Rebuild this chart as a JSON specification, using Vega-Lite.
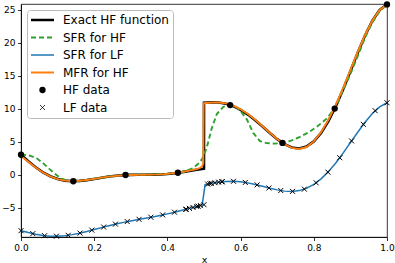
{
  "$schema": "https://vega.github.io/schema/vega-lite/v6.json",
  "width": 366,
  "height": 233,
  "autosize": {"type": "none"},
  "padding": {"left": 21, "top": 4, "right": 8, "bottom": 26},
  "config": {
    "font": "DejaVu Sans",
    "view": {"stroke": "black", "strokeWidth": 0.8},
    "axis": {
      "grid": false,
      "labelFlush": false,
      "labelOverlap": false,
      "domainColor": "black",
      "domainWidth": 0.8,
      "tickColor": "black",
      "tickWidth": 0.8,
      "tickSize": 3.5,
      "labelColor": "black",
      "labelFont": "DejaVu Sans",
      "labelFontSize": 9,
      "labelPadding": 2.5,
      "titleFont": "DejaVu Sans",
      "titleFontSize": 9.5,
      "titleFontWeight": "normal",
      "titleColor": "black"
    }
  },
  "datasets": {
    "curves": [
      {"x":0,"y":3.03,"series":"Exact HF function"},{"x":0.02,"y":2.05,"series":"Exact HF function"},{"x":0.04,"y":1.14,"series":"Exact HF function"},{"x":0.06,"y":0.37,"series":"Exact HF function"},{"x":0.08,"y":-0.23,"series":"Exact HF function"},{"x":0.1,"y":-0.66,"series":"Exact HF function"},{"x":0.12,"y":-0.9,"series":"Exact HF function"},{"x":0.14,"y":-0.99,"series":"Exact HF function"},{"x":0.16,"y":-0.94,"series":"Exact HF function"},{"x":0.18,"y":-0.82,"series":"Exact HF function"},{"x":0.2,"y":-0.64,"series":"Exact HF function"},{"x":0.22,"y":-0.45,"series":"Exact HF function"},{"x":0.24,"y":-0.28,"series":"Exact HF function"},{"x":0.26,"y":-0.15,"series":"Exact HF function"},{"x":0.28,"y":-0.06,"series":"Exact HF function"},{"x":0.3,"y":-0.02,"series":"Exact HF function"},{"x":0.32,"y":0,"series":"Exact HF function"},{"x":0.34,"y":0,"series":"Exact HF function"},{"x":0.36,"y":0.01,"series":"Exact HF function"},{"x":0.38,"y":0.04,"series":"Exact HF function"},{"x":0.4,"y":0.12,"series":"Exact HF function"},{"x":0.42,"y":0.23,"series":"Exact HF function"},{"x":0.44,"y":0.39,"series":"Exact HF function"},{"x":0.46,"y":0.58,"series":"Exact HF function"},{"x":0.48,"y":0.76,"series":"Exact HF function"},{"x":0.49,"y":0.84,"series":"Exact HF function"},{"x":0.5,"y":0.91,"series":"Exact HF function"},{"x":0.50001,"y":10.91,"series":"Exact HF function"},{"x":0.51,"y":10.96,"series":"Exact HF function"},{"x":0.52,"y":10.98,"series":"Exact HF function"},{"x":0.54,"y":10.95,"series":"Exact HF function"},{"x":0.56,"y":10.76,"series":"Exact HF function"},{"x":0.58,"y":10.4,"series":"Exact HF function"},{"x":0.6,"y":9.85,"series":"Exact HF function"},{"x":0.62,"y":9.13,"series":"Exact HF function"},{"x":0.64,"y":8.26,"series":"Exact HF function"},{"x":0.66,"y":7.3,"series":"Exact HF function"},{"x":0.68,"y":6.32,"series":"Exact HF function"},{"x":0.7,"y":5.39,"series":"Exact HF function"},{"x":0.72,"y":4.63,"series":"Exact HF function"},{"x":0.74,"y":4.13,"series":"Exact HF function"},{"x":0.76,"y":3.98,"series":"Exact HF function"},{"x":0.78,"y":4.27,"series":"Exact HF function"},{"x":0.8,"y":5.05,"series":"Exact HF function"},{"x":0.82,"y":6.34,"series":"Exact HF function"},{"x":0.84,"y":8.14,"series":"Exact HF function"},{"x":0.86,"y":10.37,"series":"Exact HF function"},{"x":0.88,"y":12.94,"series":"Exact HF function"},{"x":0.9,"y":15.71,"series":"Exact HF function"},{"x":0.92,"y":18.51,"series":"Exact HF function"},{"x":0.94,"y":21.12,"series":"Exact HF function"},{"x":0.96,"y":23.36,"series":"Exact HF function"},{"x":0.98,"y":24.99,"series":"Exact HF function"},{"x":1,"y":25.83,"series":"Exact HF function"},

      {"x":0,"y":3.03,"series":"SFR for HF"},{"x":0.01,"y":3.0,"series":"SFR for HF"},{"x":0.025,"y":2.88,"series":"SFR for HF"},{"x":0.043,"y":2.48,"series":"SFR for HF"},{"x":0.061,"y":1.72,"series":"SFR for HF"},{"x":0.079,"y":0.81,"series":"SFR for HF"},{"x":0.097,"y":-0.05,"series":"SFR for HF"},{"x":0.111,"y":-0.6,"series":"SFR for HF"},{"x":0.125,"y":-0.88,"series":"SFR for HF"},{"x":0.143,"y":-0.99,"series":"SFR for HF"},{"x":0.16,"y":-0.94,"series":"SFR for HF"},{"x":0.2,"y":-0.62,"series":"SFR for HF"},{"x":0.24,"y":-0.28,"series":"SFR for HF"},{"x":0.286,"y":-0.04,"series":"SFR for HF"},{"x":0.32,"y":0.02,"series":"SFR for HF"},{"x":0.36,"y":0.05,"series":"SFR for HF"},{"x":0.4,"y":0.15,"series":"SFR for HF"},{"x":0.43,"y":0.3,"series":"SFR for HF"},{"x":0.45,"y":0.55,"series":"SFR for HF"},{"x":0.47,"y":1.0,"series":"SFR for HF"},{"x":0.485,"y":1.7,"series":"SFR for HF"},{"x":0.495,"y":2.4,"series":"SFR for HF"},{"x":0.507,"y":4.0,"series":"SFR for HF"},{"x":0.521,"y":7.0,"series":"SFR for HF"},{"x":0.535,"y":9.2,"series":"SFR for HF"},{"x":0.553,"y":10.3,"series":"SFR for HF"},{"x":0.571,"y":10.57,"series":"SFR for HF"},{"x":0.585,"y":10.4,"series":"SFR for HF"},{"x":0.598,"y":9.8,"series":"SFR for HF"},{"x":0.617,"y":8.4,"series":"SFR for HF"},{"x":0.635,"y":6.3,"series":"SFR for HF"},{"x":0.653,"y":5.1,"series":"SFR for HF"},{"x":0.671,"y":4.8,"series":"SFR for HF"},{"x":0.694,"y":4.72,"series":"SFR for HF"},{"x":0.714,"y":4.83,"series":"SFR for HF"},{"x":0.74,"y":5.2,"series":"SFR for HF"},{"x":0.762,"y":5.75,"series":"SFR for HF"},{"x":0.785,"y":6.4,"series":"SFR for HF"},{"x":0.808,"y":7.25,"series":"SFR for HF"},{"x":0.835,"y":8.5,"series":"SFR for HF"},{"x":0.857,"y":10.03,"series":"SFR for HF"},{"x":0.87,"y":11.6,"series":"SFR for HF"},{"x":0.885,"y":13.4,"series":"SFR for HF"},{"x":0.9,"y":15.3,"series":"SFR for HF"},{"x":0.92,"y":18.0,"series":"SFR for HF"},{"x":0.94,"y":20.8,"series":"SFR for HF"},{"x":0.96,"y":23.1,"series":"SFR for HF"},{"x":0.98,"y":24.8,"series":"SFR for HF"},{"x":1,"y":25.83,"series":"SFR for HF"},

      {"x":0,"y":-8.49,"series":"SFR for LF"},{"x":0.02,"y":-8.78,"series":"SFR for LF"},{"x":0.04,"y":-9.03,"series":"SFR for LF"},{"x":0.06,"y":-9.22,"series":"SFR for LF"},{"x":0.08,"y":-9.32,"series":"SFR for LF"},{"x":0.1,"y":-9.33,"series":"SFR for LF"},{"x":0.12,"y":-9.25,"series":"SFR for LF"},{"x":0.14,"y":-9.09,"series":"SFR for LF"},{"x":0.16,"y":-8.87,"series":"SFR for LF"},{"x":0.18,"y":-8.61,"series":"SFR for LF"},{"x":0.2,"y":-8.32,"series":"SFR for LF"},{"x":0.22,"y":-8.03,"series":"SFR for LF"},{"x":0.24,"y":-7.74,"series":"SFR for LF"},{"x":0.26,"y":-7.48,"series":"SFR for LF"},{"x":0.28,"y":-7.23,"series":"SFR for LF"},{"x":0.3,"y":-7.01,"series":"SFR for LF"},{"x":0.32,"y":-6.8,"series":"SFR for LF"},{"x":0.34,"y":-6.6,"series":"SFR for LF"},{"x":0.36,"y":-6.4,"series":"SFR for LF"},{"x":0.38,"y":-6.18,"series":"SFR for LF"},{"x":0.4,"y":-5.94,"series":"SFR for LF"},{"x":0.42,"y":-5.68,"series":"SFR for LF"},{"x":0.44,"y":-5.4,"series":"SFR for LF"},{"x":0.46,"y":-5.11,"series":"SFR for LF"},{"x":0.48,"y":-4.82,"series":"SFR for LF"},{"x":0.49,"y":-4.68,"series":"SFR for LF"},{"x":0.495,"y":-4.61,"series":"SFR for LF"},{"x":0.503,"y":-1.51,"series":"SFR for LF"},{"x":0.51,"y":-1.42,"series":"SFR for LF"},{"x":0.52,"y":-1.31,"series":"SFR for LF"},{"x":0.54,"y":-1.13,"series":"SFR for LF"},{"x":0.56,"y":-1.02,"series":"SFR for LF"},{"x":0.58,"y":-1.0,"series":"SFR for LF"},{"x":0.6,"y":-1.08,"series":"SFR for LF"},{"x":0.62,"y":-1.24,"series":"SFR for LF"},{"x":0.64,"y":-1.47,"series":"SFR for LF"},{"x":0.66,"y":-1.75,"series":"SFR for LF"},{"x":0.68,"y":-2.04,"series":"SFR for LF"},{"x":0.7,"y":-2.3,"series":"SFR for LF"},{"x":0.72,"y":-2.49,"series":"SFR for LF"},{"x":0.74,"y":-2.54,"series":"SFR for LF"},{"x":0.76,"y":-2.41,"series":"SFR for LF"},{"x":0.78,"y":-2.07,"series":"SFR for LF"},{"x":0.8,"y":-1.48,"series":"SFR for LF"},{"x":0.82,"y":-0.63,"series":"SFR for LF"},{"x":0.84,"y":0.47,"series":"SFR for LF"},{"x":0.86,"y":1.78,"series":"SFR for LF"},{"x":0.88,"y":3.27,"series":"SFR for LF"},{"x":0.9,"y":4.86,"series":"SFR for LF"},{"x":0.92,"y":6.45,"series":"SFR for LF"},{"x":0.94,"y":7.96,"series":"SFR for LF"},{"x":0.96,"y":9.28,"series":"SFR for LF"},{"x":0.98,"y":10.29,"series":"SFR for LF"},{"x":1,"y":10.92,"series":"SFR for LF"},

      {"x":0,"y":2.85,"series":"MFR for HF"},{"x":0.02,"y":1.95,"series":"MFR for HF"},{"x":0.04,"y":1.08,"series":"MFR for HF"},{"x":0.06,"y":0.33,"series":"MFR for HF"},{"x":0.08,"y":-0.26,"series":"MFR for HF"},{"x":0.1,"y":-0.67,"series":"MFR for HF"},{"x":0.12,"y":-0.9,"series":"MFR for HF"},{"x":0.14,"y":-0.97,"series":"MFR for HF"},{"x":0.16,"y":-0.92,"series":"MFR for HF"},{"x":0.18,"y":-0.8,"series":"MFR for HF"},{"x":0.2,"y":-0.63,"series":"MFR for HF"},{"x":0.22,"y":-0.45,"series":"MFR for HF"},{"x":0.24,"y":-0.29,"series":"MFR for HF"},{"x":0.26,"y":-0.17,"series":"MFR for HF"},{"x":0.28,"y":-0.09,"series":"MFR for HF"},{"x":0.3,"y":-0.05,"series":"MFR for HF"},{"x":0.32,"y":-0.03,"series":"MFR for HF"},{"x":0.34,"y":-0.01,"series":"MFR for HF"},{"x":0.36,"y":0.01,"series":"MFR for HF"},{"x":0.38,"y":0.05,"series":"MFR for HF"},{"x":0.4,"y":0.13,"series":"MFR for HF"},{"x":0.42,"y":0.25,"series":"MFR for HF"},{"x":0.44,"y":0.42,"series":"MFR for HF"},{"x":0.46,"y":0.62,"series":"MFR for HF"},{"x":0.48,"y":0.85,"series":"MFR for HF"},{"x":0.49,"y":1.05,"series":"MFR for HF"},{"x":0.495,"y":1.3,"series":"MFR for HF"},{"x":0.498,"y":1.7,"series":"MFR for HF"},{"x":0.499,"y":10.6,"series":"MFR for HF"},{"x":0.5,"y":10.85,"series":"MFR for HF"},{"x":0.52,"y":10.95,"series":"MFR for HF"},{"x":0.54,"y":10.95,"series":"MFR for HF"},{"x":0.56,"y":10.82,"series":"MFR for HF"},{"x":0.58,"y":10.48,"series":"MFR for HF"},{"x":0.6,"y":9.93,"series":"MFR for HF"},{"x":0.62,"y":9.2,"series":"MFR for HF"},{"x":0.64,"y":8.33,"series":"MFR for HF"},{"x":0.66,"y":7.36,"series":"MFR for HF"},{"x":0.68,"y":6.37,"series":"MFR for HF"},{"x":0.7,"y":5.43,"series":"MFR for HF"},{"x":0.72,"y":4.63,"series":"MFR for HF"},{"x":0.74,"y":4.08,"series":"MFR for HF"},{"x":0.76,"y":3.9,"series":"MFR for HF"},{"x":0.78,"y":4.2,"series":"MFR for HF"},{"x":0.8,"y":5.05,"series":"MFR for HF"},{"x":0.82,"y":6.45,"series":"MFR for HF"},{"x":0.84,"y":8.35,"series":"MFR for HF"},{"x":0.86,"y":10.6,"series":"MFR for HF"},{"x":0.88,"y":13.15,"series":"MFR for HF"},{"x":0.9,"y":15.9,"series":"MFR for HF"},{"x":0.92,"y":18.65,"series":"MFR for HF"},{"x":0.94,"y":21.2,"series":"MFR for HF"},{"x":0.96,"y":23.4,"series":"MFR for HF"},{"x":0.98,"y":25.0,"series":"MFR for HF"},{"x":1,"y":25.83,"series":"MFR for HF"}
    ],
    "hf": [
      {"x":0,"y":3.03},{"x":0.1429,"y":-0.99},{"x":0.2857,"y":-0.04},{"x":0.4286,"y":0.3},{"x":0.5714,"y":10.57},{"x":0.7143,"y":4.83},{"x":0.8571,"y":10.03},{"x":1,"y":25.83}
    ],
    "lf": [
      {"x":0,"y":-8.49},{"x":0.0323,"y":-8.94},{"x":0.0645,"y":-9.25},{"x":0.0968,"y":-9.33},{"x":0.129,"y":-9.19},{"x":0.1613,"y":-8.86},{"x":0.1935,"y":-8.41},{"x":0.2258,"y":-7.94},{"x":0.2581,"y":-7.5},{"x":0.2903,"y":-7.11},{"x":0.3226,"y":-6.77},{"x":0.3548,"y":-6.45},{"x":0.3871,"y":-6.1},{"x":0.4194,"y":-5.69},{"x":0.4516,"y":-5.24},{"x":0.4839,"y":-4.77},{"x":0.5161,"y":-1.35},{"x":0.5484,"y":-1.07},{"x":0.5806,"y":-1.0},{"x":0.6129,"y":-1.17},{"x":0.6452,"y":-1.54},{"x":0.6774,"y":-2.01},{"x":0.7097,"y":-2.4},{"x":0.7419,"y":-2.53},{"x":0.7742,"y":-2.19},{"x":0.8065,"y":-1.23},{"x":0.8387,"y":0.39},{"x":0.871,"y":2.58},{"x":0.9032,"y":5.12},{"x":0.9355,"y":7.64},{"x":0.9677,"y":9.71},{"x":1,"y":10.92},
      {"x":0.45,"y":-5.26},{"x":0.46,"y":-5.11},{"x":0.47,"y":-4.97},{"x":0.48,"y":-4.82},{"x":0.49,"y":-4.68},{"x":0.5,"y":-4.55},{"x":0.51,"y":-1.42},{"x":0.52,"y":-1.31},{"x":0.53,"y":-1.21},{"x":0.54,"y":-1.13},{"x":0.55,"y":-1.06}
    ]
  },
  "encoding": {
    "x": {"field": "x", "type": "quantitative", "scale": {"domain": [0, 1], "nice": false, "zero": false}, "axis": {"title": "x", "values": [0, 0.2, 0.4, 0.6, 0.8, 1], "format": ".1f", "titlePadding": 2}},
    "y": {"field": "y", "type": "quantitative", "scale": {"domain": [-9.45, 25.9], "nice": false, "zero": false}, "axis": {"title": null, "values": [-5, 0, 5, 10, 15, 20, 25]}}
  },
  "layer": [
    {
      "data": {"name": "curves"},
      "transform": [{"filter": "datum.series === 'Exact HF function'"}],
      "mark": {"type": "line", "strokeWidth": 2.6},
      "encoding": {
        "color": {
          "field": "series", "type": "nominal",
          "scale": {"domain": ["Exact HF function", "SFR for HF", "SFR for LF", "MFR for HF", "HF data", "LF data"], "range": ["black", "#2ca02c", "#1f77b4", "#ff7f0e", "black", "black"]},
          "legend": {
            "title": null,
            "orient": "none",
            "legendX": 6,
            "legendY": 6,
            "padding": 4,
            "fillColor": "white",
            "strokeColor": "#bbbbbb",
            "cornerRadius": 3,
            "labelFont": "DejaVu Sans",
            "labelFontSize": 12,
            "labelColor": "black",
            "labelOffset": 9,
            "rowPadding": 5.5,
            "symbolSize": 529,
            "encode": {
              "symbols": {
                "update": {
                  "shape": {"signal": "datum.value === 'HF data' ? 'circle' : datum.value === 'LF data' ? 'M-1,-1L1,1M-1,1L1,-1' : 'stroke'"},
                  "size": {"signal": "datum.value === 'HF data' ? 40 : datum.value === 'LF data' ? 25 : 529"},
                  "fill": {"signal": "datum.value === 'HF data' ? 'black' : 'transparent'"},
                  "stroke": {"signal": "datum.value === 'SFR for HF' ? '#2ca02c' : datum.value === 'SFR for LF' ? '#1f77b4' : datum.value === 'MFR for HF' ? '#ff7f0e' : 'black'"},
                  "strokeWidth": {"signal": "datum.value === 'Exact HF function' ? 2.6 : datum.value === 'SFR for LF' ? 1.5 : datum.value === 'HF data' ? 0 : datum.value === 'LF data' ? 1 : 1.9"},
                  "strokeDash": {"signal": "datum.value === 'SFR for HF' ? [5, 3] : [1, 0]"},
                  "opacity": {"value": 1},
                  "x": {"value": 11.5}
                }
              },
              "labels": {
                "update": {
                  "x": {"value": 32}
                }
              }
            }
          }
        }
      }
    },
    {
      "data": {"name": "curves"},
      "transform": [{"filter": "datum.series === 'SFR for HF'"}],
      "mark": {"type": "line", "strokeWidth": 1.9, "strokeDash": [5, 3]},
      "encoding": {"color": {"field": "series", "type": "nominal"}}
    },
    {
      "data": {"name": "curves"},
      "transform": [{"filter": "datum.series === 'SFR for LF'"}],
      "mark": {"type": "line", "strokeWidth": 1.5},
      "encoding": {"color": {"field": "series", "type": "nominal"}}
    },
    {
      "data": {"name": "curves"},
      "transform": [{"filter": "datum.series === 'MFR for HF'"}],
      "mark": {"type": "line", "strokeWidth": 1.9},
      "encoding": {"color": {"field": "series", "type": "nominal"}}
    },
    {
      "data": {"name": "hf"},
      "mark": {"type": "point", "shape": "circle", "filled": true, "size": 40, "color": "black", "opacity": 1}
    },
    {
      "data": {"name": "lf"},
      "mark": {"type": "point", "shape": "M-1,-1L1,1M-1,1L1,-1", "filled": false, "size": 25, "color": "black", "strokeWidth": 1, "opacity": 1}
    }
  ]
}
